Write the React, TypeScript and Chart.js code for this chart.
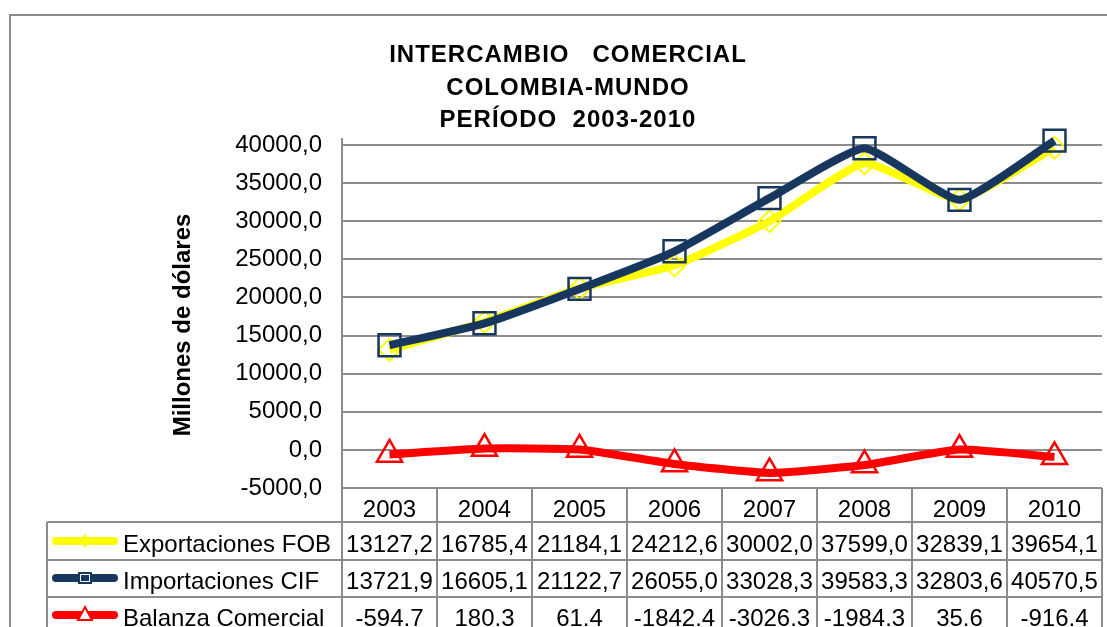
import React, { useEffect, useRef } from 'react';
import { Chart, registerables } from 'chart.js';

Chart.register(...registerables);

// ---- data ----
const years = ['2003', '2004', '2005', '2006', '2007', '2008', '2009', '2010'];
const exportaciones = [13127.2, 16785.4, 21184.1, 24212.6, 30002.0, 37599.0, 32839.1, 39654.1];
const importaciones = [13721.9, 16605.1, 21122.7, 26055.0, 33028.3, 39583.3, 32803.6, 40570.5];
const balanza = [-594.7, 180.3, 61.4, -1842.4, -3026.3, -1984.3, 35.6, -916.4];
const titleLines = ['INTERCAMBIO   COMERCIAL', 'COLOMBIA-MUNDO', 'PERÍODO  2003-2010'];
const yAxisTitle = 'Millones de dólares';
const yMin = -5000;
const yMax = 40000;
const yStep = 5000;

const FONT = '"Liberation Sans", Arial, Helvetica, sans-serif';
const GRID = '#8c8c8c';
const YELLOW = '#FFFF00';
const NAVY = '#17375E';
const RED = '#FF0000';

const fmtComma = (v: number) => v.toFixed(1).replace('.', ',');
const fmtDot = (v: number) => v.toFixed(1);

const tableRows = [
  { label: 'Exportaciones FOB', values: exportaciones, fmt: fmtComma, color: YELLOW, kind: 'diamond' },
  { label: 'Importaciones CIF', values: importaciones, fmt: fmtComma, color: NAVY, kind: 'square' },
  { label: 'Balanza Comercial', values: balanza, fmt: fmtDot, color: RED, kind: 'triangle' },
];

const W = 1107;
const H = 627;

const decorPlugin = {
  id: 'decor',
  beforeDraw(chart: any) {
    const { ctx } = chart;
    ctx.save();
    ctx.fillStyle = '#ffffff';
    ctx.fillRect(0, 0, W, H);
    ctx.restore();
  },
  afterDraw(chart: any) {
    const { ctx, chartArea } = chart;
    const x = chart.scales.x;
    const half = (x.getPixelForValue(1) - x.getPixelForValue(0)) / 2;
    const left = chartArea.left;
    const right = chartArea.right;
    const bottom = chartArea.bottom;
    const line = (x1: number, y1: number, x2: number, y2: number) => {
      ctx.beginPath();
      ctx.moveTo(x1, y1);
      ctx.lineTo(x2, y2);
      ctx.stroke();
    };
    ctx.save();
    // outer frame
    ctx.strokeStyle = GRID;
    ctx.lineWidth = 2;
    ctx.strokeRect(10, 15, W + 20, H + 20);

    // title
    ctx.fillStyle = '#000';
    ctx.font = `bold 24px ${FONT}`;
    ctx.textAlign = 'center';
    ctx.textBaseline = 'alphabetic';
    (ctx as any).letterSpacing = '1px';
    const titleBase = [62, 95, 127];
    titleLines.forEach((t, i) => ctx.fillText(t, 568, titleBase[i]));
    (ctx as any).letterSpacing = '0px';

    // y axis title
    ctx.save();
    ctx.translate(190, 325);
    ctx.rotate(-Math.PI / 2);
    ctx.font = `bold 24px ${FONT}`;
    ctx.textAlign = 'center';
    ctx.fillText(yAxisTitle, 0, 0);
    ctx.restore();

    // axis extension above plot
    ctx.strokeStyle = GRID;
    ctx.lineWidth = 2;
    line(left, chartArea.top - 7, left, chartArea.top);

    // table grid
    const tableLeft = 47;
    const rowLines = [522, 560, 597];
    for (let i = 0; i <= years.length; i++) {
      const px = i < years.length ? x.getPixelForValue(i) - half : x.getPixelForValue(years.length - 1) + half;
      line(px, bottom, px, H + 5);
    }
    line(left, bottom, right, bottom);
    rowLines.forEach((ry) => line(tableLeft, ry, right, ry));
    line(tableLeft, rowLines[0], tableLeft, H + 5);

    // header (years)
    ctx.font = `24px ${FONT}`;
    ctx.fillStyle = '#000';
    ctx.textAlign = 'center';
    years.forEach((yr, i) => ctx.fillText(yr, x.getPixelForValue(i), 517));

    // rows
    const baselines = [552, 589, 626];
    const keyY = [541, 578, 615];
    tableRows.forEach((row, r) => {
      ctx.textAlign = 'center';
      ctx.fillStyle = '#000';
      row.values.forEach((v, i) => ctx.fillText(row.fmt(v), x.getPixelForValue(i), baselines[r]));
      // legend key
      ctx.strokeStyle = row.color;
      ctx.lineWidth = 8;
      ctx.lineCap = 'round';
      line(56, keyY[r], 114, keyY[r]);
      ctx.lineCap = 'butt';
      const cx = 85;
      const cy = keyY[r];
      if (row.kind === 'diamond') {
        ctx.fillStyle = row.color;
        ctx.beginPath();
        ctx.moveTo(cx, cy - 7);
        ctx.lineTo(cx + 5, cy);
        ctx.lineTo(cx, cy + 7);
        ctx.lineTo(cx - 5, cy);
        ctx.closePath();
        ctx.fill();
      } else if (row.kind === 'square') {
        ctx.fillStyle = row.color;
        ctx.fillRect(cx - 7, cy - 6, 14, 12);
        ctx.strokeStyle = '#ffffff';
        ctx.lineWidth = 1;
        ctx.strokeRect(cx - 4.5, cy - 3.5, 9, 7);
      } else {
        ctx.fillStyle = '#ffffff';
        ctx.strokeStyle = row.color;
        ctx.lineWidth = 2;
        ctx.beginPath();
        ctx.moveTo(cx, cy - 8);
        ctx.lineTo(cx + 7, cy + 5);
        ctx.lineTo(cx - 7, cy + 5);
        ctx.closePath();
        ctx.fill();
        ctx.stroke();
      }
      ctx.strokeStyle = GRID;
      ctx.lineWidth = 2;
      ctx.fillStyle = '#000';
      ctx.textAlign = 'left';
      ctx.fillText(row.label, 123, baselines[r]);
    });
    ctx.restore();
  },
};

export default function App() {
  const ref = useRef<HTMLCanvasElement>(null);
  useEffect(() => {
    if (!ref.current) return;
    const chart = new Chart(ref.current, {
      type: 'line',
      data: {
        labels: years,
        datasets: [
          {
            label: 'Exportaciones FOB',
            data: exportaciones,
            borderColor: YELLOW,
            backgroundColor: YELLOW,
            borderWidth: 8,
            tension: 0.15,
            clip: false,
            pointStyle: 'rectRot',
            pointRadius: 11,
            pointBorderWidth: 2,
            pointBorderColor: YELLOW,
            pointBackgroundColor: 'rgba(0,0,0,0)',
            order: 2,
          },
          {
            label: 'Importaciones CIF',
            data: importaciones,
            borderColor: NAVY,
            backgroundColor: NAVY,
            borderWidth: 8,
            tension: 0.15,
            clip: false,
            pointStyle: 'rect',
            pointRadius: 15.5,
            pointBorderWidth: 2.5,
            pointBorderColor: NAVY,
            pointBackgroundColor: 'rgba(0,0,0,0)',
            order: 1,
          },
          {
            label: 'Balanza Comercial',
            data: balanza,
            borderColor: RED,
            backgroundColor: RED,
            borderWidth: 8,
            tension: 0.15,
            clip: false,
            pointStyle: 'triangle',
            pointRadius: 14.5,
            pointBorderWidth: 2.5,
            pointBorderColor: RED,
            pointBackgroundColor: 'rgba(0,0,0,0)',
            order: 0,
          },
        ],
      },
      options: {
        responsive: false,
        animation: false,
        devicePixelRatio: 1,
        layout: { autoPadding: false, padding: { top: 145, left: 0, right: 5, bottom: 139 } },
        plugins: {
          legend: { display: false },
          title: { display: false },
          tooltip: { enabled: false },
        },
        scales: {
          x: {
            type: 'category',
            offset: true,
            display: false,
          },
          y: {
            min: yMin,
            max: yMax,
            afterFit: (scale: any) => {
              scale.width = 342;
            },
            ticks: {
              stepSize: yStep,
              padding: 20,
              color: '#000',
              font: { family: FONT, size: 24 },
              callback: (v: any) => fmtComma(Number(v)),
            },
            grid: {
              color: GRID,
              lineWidth: 2,
              drawTicks: false,
            },
            border: { display: true, color: GRID, width: 2 },
            title: { display: false },
          },
        },
      },
      plugins: [decorPlugin],
    });
    return () => chart.destroy();
  }, []);
  return (
    <div style={{ position: 'absolute', left: 0, top: 0, width: W, height: H, background: '#fff' }}>
      <canvas ref={ref} width={W} height={H} style={{ display: 'block' }} />
    </div>
  );
}
